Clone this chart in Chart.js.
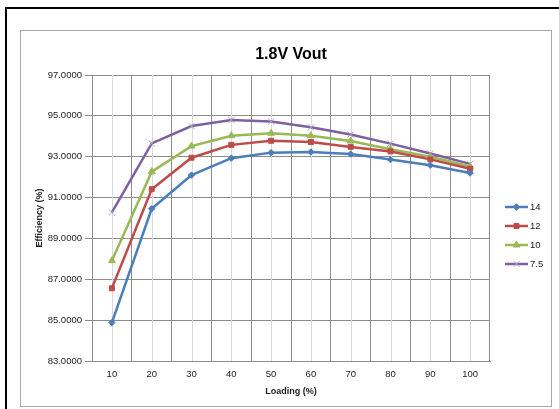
<!DOCTYPE html>
<html><head><meta charset="utf-8">
<script src="https://cdn.jsdelivr.net/npm/chart.js@4/dist/chart.umd.min.js"></script>
<style>html,body{margin:0;padding:0;background:#fff;overflow:hidden}#wrap{width:559px;height:409px;position:relative}</style>
</head><body>
<div id="wrap"><canvas id="c"></canvas></div>
<script>
// ---- data ----
const categories = ['10','20','30','40','50','60','70','80','90','100'];
const seriesNames = ['14','12','10','7.5'];
const eff14  = [84.88, 90.45, 92.10, 92.93, 93.20, 93.23, 93.13, 92.86, 92.58, 92.20];
const eff12  = [86.56, 91.41, 92.95, 93.58, 93.78, 93.72, 93.48, 93.26, 92.87, 92.41];
const eff10  = [87.91, 92.27, 93.52, 94.03, 94.15, 94.03, 93.77, 93.37, 93.00, 92.52];
const eff7_5 = [90.27, 93.65, 94.50, 94.80, 94.72, 94.44, 94.09, 93.64, 93.16, 92.65];
const yMin = 83, yMax = 97, yStep = 2;
const titleText = '1.8V Vout';
const xTitle = 'Loading (%)';
const yTitle = 'Efficiency (%)';

const colors = ['#4A7EBB', '#BE4B48', '#98B954', '#7D60A0'];
const styles = ['rectRot', 'rect', 'triangle', 'crossRot'];
const radii = [3.2, 3.5, 4, 4.5];
const values = [eff14, eff12, eff10, eff7_5];

const datasets = values.map((v, i) => ({
  label: seriesNames[i],
  data: v,
  borderColor: colors[i],
  backgroundColor: colors[i],
  borderWidth: 2.5,
  pointStyle: styles[i],
  pointRadius: radii[i],
  pointBorderWidth: 1,
  pointBorderColor: i === 3 ? '#b0a4c8' : colors[i],
  pointBackgroundColor: colors[i],
  tension: 0
}));

const FONT = '"Liberation Sans", Arial, sans-serif';

const framePlugin = {
  id: 'frame',
  beforeDraw(chart) {
    const ctx = chart.ctx;
    ctx.save();
    ctx.fillStyle = '#fff';
    ctx.fillRect(0, 0, chart.width, chart.height);
    ctx.strokeStyle = '#000';
    ctx.lineWidth = 2;
    ctx.beginPath();
    ctx.moveTo(559, 8); ctx.lineTo(6, 8); ctx.lineTo(6, 409);
    ctx.stroke();
    ctx.strokeStyle = '#a6a6a6';
    ctx.lineWidth = 1;
    ctx.strokeRect(20.5, 30.5, 531, 376);
    ctx.restore();
  },
  beforeDatasetsDraw(chart) {
    const ctx = chart.ctx, xs = chart.scales.x, a = chart.chartArea;
    ctx.save();
    ctx.strokeStyle = '#d9d9d9';
    ctx.lineWidth = 1;
    categories.forEach((c, i) => {
      const x = Math.round(xs.getPixelForValue(i)) + 0.5;
      ctx.beginPath(); ctx.moveTo(x, a.top); ctx.lineTo(x, a.bottom); ctx.stroke();
    });
    ctx.restore();
  },
  afterDraw(chart) {
    const ctx = chart.ctx, a = chart.chartArea;
    ctx.save();
    ctx.fillStyle = '#000';
    ctx.font = 'bold 16px ' + FONT;
    ctx.textAlign = 'center';
    ctx.textBaseline = 'middle';
    ctx.fillText(titleText, (a.left + a.right) / 2, 55);
    ctx.font = '9.5px ' + FONT;
    ctx.textAlign = 'left';
    chart.data.datasets.forEach((ds, i) => {
      const y = 207 + i * 19;
      ctx.strokeStyle = ds.borderColor;
      ctx.lineWidth = 2.5;
      ctx.beginPath(); ctx.moveTo(505, y); ctx.lineTo(528, y); ctx.stroke();
      ctx.fillStyle = ds.pointBackgroundColor;
      ctx.strokeStyle = ds.pointBorderColor;
      ctx.lineWidth = 1;
      Chart.helpers.drawPoint(ctx, {
        pointStyle: ds.pointStyle, radius: ds.pointRadius, rotation: 0, borderWidth: 1
      }, 516.5, y);
      ctx.fillStyle = '#222';
      ctx.fillText(ds.label, 530, y + 0.5);
    });
    ctx.restore();
  }
};

new Chart(document.getElementById('c'), {
  type: 'line',
  data: { labels: categories, datasets },
  options: {
    responsive: true,
    maintainAspectRatio: false,
    devicePixelRatio: 1,
    animation: false,
    layout: { padding: { left: 30, right: 69, top: 75, bottom: 10 } },
    plugins: { legend: { display: false }, title: { display: false }, tooltip: { enabled: false } },
    scales: {
      x: {
        type: 'category',
        offset: true,
        grid: { offset: true, color: '#8c8c8c', lineWidth: 1, tickLength: 0, drawTicks: false },
        border: { color: '#8c8c8c' },
        ticks: { color: '#222', font: { family: FONT, size: 9.5 }, padding: 8, maxRotation: 0 },
        title: { display: true, text: xTitle, color: '#222', font: { family: FONT, size: 9, weight: 'bold' }, padding: { top: 2, bottom: 2 } },
        afterFit(s) { s.height = 38; }
      },
      y: {
        min: yMin, max: yMax,
        ticks: { stepSize: yStep, color: '#222', font: { family: FONT, size: 9.5 }, padding: 3,
          callback: v => Number(v).toFixed(4) },
        grid: { color: '#8c8c8c', lineWidth: 1, tickLength: 7 },
        border: { color: '#8c8c8c' },
        title: { display: true, text: yTitle, color: '#222', font: { family: FONT, size: 9, weight: 'bold' }, padding: { top: 4, bottom: 0 } },
        afterFit(s) { s.width = 62; }
      }
    }
  },
  plugins: [framePlugin]
});
</script>
</body></html>
